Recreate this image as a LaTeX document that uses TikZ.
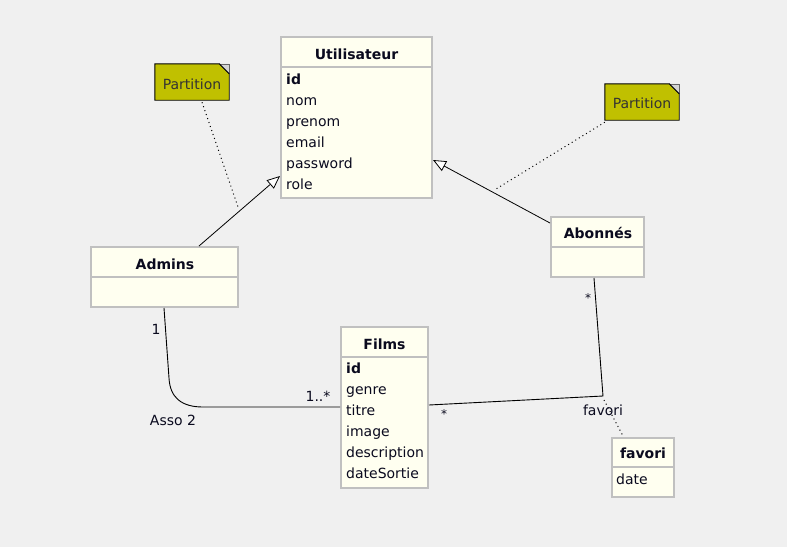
\documentclass[tikz,border=0pt]{standalone}
\usepackage{fontspec}
\setmainfont{DejaVu Sans}
\usetikzlibrary{arrows.meta,calc}
\definecolor{bg}{RGB}{240,240,240}
\definecolor{boxfill}{RGB}{255,255,240}
\definecolor{boxline}{RGB}{192,192,192}
\definecolor{notefill}{RGB}{192,192,0}
\definecolor{foldfill}{RGB}{212,212,212}
\definecolor{txt}{RGB}{10,10,30}
\begin{document}
\begin{tikzpicture}[x=1pt,y=-1pt,
  classbox/.style={draw=boxline, line width=2pt, fill=boxfill, inner sep=0pt, outer sep=0pt, anchor=north west},
  divider/.style={draw=boxline, line width=2pt},
  ctitle/.style={font=\fontsize{14}{16}\selectfont\bfseries, inner sep=0pt, anchor=base, text=txt},
  attr/.style={font=\fontsize{14}{16}\selectfont, inner sep=0pt, anchor=base west, text=txt},
  battr/.style={font=\fontsize{14}{16}\selectfont\bfseries, inner sep=0pt, anchor=base west, text=txt},
  lbl/.style={font=\fontsize{14}{16}\selectfont, inner sep=0pt, anchor=base, text=txt},
  star/.style={font=\fontsize{12}{14}\selectfont, inner sep=0pt, anchor=base, text=txt},
  notebox/.style={inner sep=0pt, minimum width=74pt, minimum height=36pt},
  notetext/.style={font=\fontsize{14}{16}\selectfont, inner sep=0pt, anchor=base, text=black!80},
  gen/.style={draw=black, line width=0.8pt, -{Triangle[fill=white, length=13pt, width=11pt, line width=0.8pt]}},
  assoc/.style={draw=black, line width=0.9pt},
  dots/.style={draw=black, line width=1pt, dash pattern=on 1pt off 3.2pt}
]
\useasboundingbox[fill=bg] (0,0) rectangle (787,547);

% ---------- notes ----------
\node[notebox] (p1) at (192,82) {};
\node[notebox] (p2) at (642,102) {};
\foreach \n in {p1,p2}{
  \draw[fill=notefill, line width=0.9pt] (\n.north west) -- ($(\n.north east)+(-10,0)$) -- ($(\n.north east)+(0,10)$) -- (\n.south east) -- (\n.south west) -- cycle;
  \fill[foldfill] ($(\n.north east)+(-10,0)$) -- (\n.north east) -- ($(\n.north east)+(0,10)$) -- cycle;
  \draw[black!60, line width=0.5pt] ($(\n.north east)+(-10,0)$) -- (\n.north east) -- ($(\n.north east)+(0,10)$);
  \draw[line width=0.9pt] ($(\n.north east)+(-10,0)$) -- ($(\n.north east)+(0,10)$);
}
\node[notetext] (p1t) at (192,89) {Partition};
\node[notetext] (p2t) at (642,108) {Partition};

% ---------- class boxes ----------
\node[classbox, minimum width=151pt, minimum height=161pt] (util) at (281,37) {};
\draw[divider] (281,67) -- (432,67);
\node[ctitle] (utilT) at (356.5,59) {Utilisateur};
\node[battr] (u1) at (286,84) {id};
\node[attr] (u2) at (286,105) {nom};
\node[attr] (u3) at (286,126) {prenom};
\node[attr] (u4) at (286,147) {email};
\node[attr] (u5) at (286,168) {password};
\node[attr] (u6) at (286,189) {role};

\node[classbox, minimum width=147pt, minimum height=60pt] (admins) at (91,247) {};
\draw[divider] (91,277) -- (238,277);
\node[ctitle] (adminsT) at (165,269) {Admins};

\node[classbox, minimum width=93pt, minimum height=60pt] (abon) at (551,217) {};
\draw[divider] (551,247) -- (644,247);
\node[ctitle] (abonT) at (598,238) {Abonnés};

\node[classbox, minimum width=87pt, minimum height=161pt] (films) at (341,327) {};
\draw[divider] (341,357) -- (428,357);
\node[ctitle] (filmsT) at (384.5,349) {Films};
\node[battr] (f1) at (346,373) {id};
\node[attr] (f2) at (346,394) {genre};
\node[attr] (f3) at (346,415) {titre};
\node[attr] (f4) at (346,436) {image};
\node[attr] (f5) at (346,457) {description};
\node[attr] (f6) at (346,478) {dateSortie};

\node[classbox, minimum width=62pt, minimum height=59pt] (fav) at (612,438) {};
\draw[divider] (612,467) -- (674,467);
\node[ctitle] (favT) at (643,458) {favori};
\node[attr] (fav1) at (616,484) {date};

% ---------- connector end points ----------
\coordinate (aTop) at ($(admins.north west)+(108,-1)$);
\coordinate (uLeft) at ($(util.north west)+(-1,139)$);
\coordinate (bLeft) at ($(abon.north west)+(-1,6)$);
\coordinate (uRight) at ($(util.north east)+(1,123)$);
\coordinate (g1mid) at (238,207);
\coordinate (g2mid) at (496,189);
\coordinate (aBot) at ($(admins.south west)+(73,1)$);
\coordinate (fLeft) at ($(films.north west)+(-1,80)$);
\coordinate (fRight) at ($(films.north east)+(1,78)$);
\coordinate (bend) at (603,396);
\coordinate (bBot) at ($(abon.south west)+(43,1)$);
\coordinate (favTop) at ($(fav.north west)+(11,-2)$);

% ---------- generalizations ----------
\draw[gen] (aTop) -- (uLeft);
\draw[gen] (bLeft) -- (uRight);
\draw[dots] (p1.south) ++(10,2) -- (g1mid);
\draw[dots] ($(p2.south west)+(0,2)$) -- (g2mid);

% ---------- associations ----------
\draw[assoc] (aBot) -- (169,378) .. controls (170,398) and (182,407) .. (203,407) -- (fLeft);
\draw[assoc] (fRight) -- (bend) -- (bBot);
\draw[dots] (bend) ++(1,4) -- (favTop);

% ---------- labels ----------
\node[lbl] (l1) at (156,334) {1};
\node[lbl] (l2) at (318,401) {1..*};
\node[lbl] (l3) at (173,425) {Asso 2};
\node[star] (l4) at (588,302) {*};
\node[star] (l5) at (444,418) {*};
\node[lbl] (l6) at (603,415) {favori};
\end{tikzpicture}
\end{document}
